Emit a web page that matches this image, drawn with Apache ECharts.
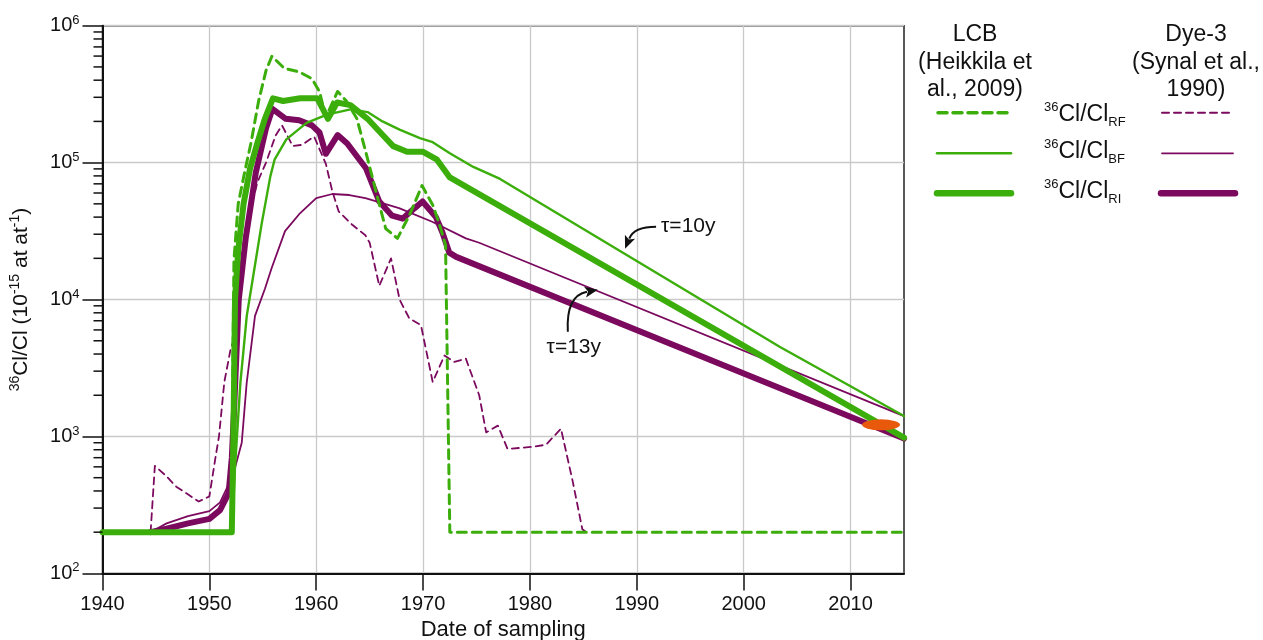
<!DOCTYPE html>
<html><head><meta charset="utf-8">
<script src="https://cdn.jsdelivr.net/npm/echarts@6/dist/echarts.min.js"></script>
<style>html,body{margin:0;padding:0;background:#fff}#c{width:1263px;height:640px}</style>
</head><body><div id="c"></div>
<script>
// ---------- data ----------
const xTicks = [1940, 1950, 1960, 1970, 1980, 1990, 2000, 2010];
const yTicks = [100, 1000, 10000, 100000, 1000000];
const yMinorTicks = [200,300,400,500,600,700,800,900,
  2000,3000,4000,5000,6000,7000,8000,9000,
  20000,30000,40000,50000,60000,70000,80000,90000,
  200000,300000,400000,500000,600000,700000,800000,900000];

// LCB (Heikkila et al., 2009)
const lcbRF = [[1940,200],[1952.05,200],[1952.3,19500],[1952.7,50000],[1953.3,85000],[1953.9,140000],[1954.6,280000],[1955.3,470000],[1955.85,598000],[1957.0,489000],[1958.4,460000],[1959.6,410000],[1960.3,331000],[1960.9,215000],[1962.0,331000],[1962.8,283000],[1963.8,210000],[1964.8,107000],[1965.7,57000],[1966.5,33000],[1967.6,28000],[1968.7,41000],[1969.9,68000],[1970.9,49000],[1971.5,36000],[1972.1,25000],[1972.5,200],[2015,200]];
const lcbBF = [[1940,200],[1952.1,200],[1952.4,600],[1952.9,2450],[1953.5,7600],[1954.1,14800],[1954.9,36000],[1955.7,79000],[1956.1,105000],[1957.2,148000],[1959.1,195000],[1961.0,224000],[1963.2,245000],[1964.8,234000],[1966.2,200000],[1967.8,174000],[1969.7,151000],[1970.9,141000],[1972.5,117000],[1974.7,93000],[1977.2,76000],[2003.4,4500],[2015,1410]];
const lcbRI = [[1940,200],[1952.1,200],[1952.25,1000],[1952.4,10000],[1952.7,23000],[1953.2,50000],[1953.8,90000],[1954.5,140000],[1955.2,210000],[1955.95,295000],[1956.9,282000],[1958.5,295000],[1960.1,295000],[1961.1,209000],[1961.95,275000],[1963.2,263000],[1964.8,209000],[1966.0,166000],[1967.2,132000],[1968.5,120000],[1970.0,120000],[1971.3,105000],[1972.5,78000],[2015,980]];

// Dye-3 (Synal et al., 1990)
const dyeRF = [[1944.5,200],[1944.9,610],[1945.9,520],[1946.9,430],[1949.0,335],[1950.0,365],[1950.6,725],[1950.9,1000],[1951.4,2500],[1952.0,4400],[1952.45,5500],[1952.85,11500],[1953.3,23000],[1953.9,47000],[1954.5,72000],[1955.3,100000],[1956.2,158000],[1956.8,187000],[1957.8,132000],[1958.7,135000],[1959.8,155000],[1960.9,98000],[1961.5,62000],[1962.1,44000],[1963.4,35000],[1964.6,29500],[1965.0,26000],[1965.9,12600],[1967.0,20000],[1967.8,10000],[1968.7,7300],[1969.8,6500],[1970.9,2500],[1972.0,3900],[1972.9,3500],[1974.0,3700],[1975.25,2000],[1975.9,1070],[1977.0,1200],[1977.9,810],[1980.2,840],[1981.5,870],[1982.9,1140],[1984.0,470],[1984.9,210],[1985.3,200]];
const dyeBF = [[1944.5,200],[1946,232],[1948,262],[1950,285],[1951.0,330],[1951.77,441],[1952.4,590],[1953.03,900],[1953.49,2450],[1954.27,7600],[1955.2,12000],[1955.83,17000],[1957.08,31600],[1958.4,42000],[1960.0,55000],[1961.5,59000],[1963.1,58000],[1964.6,55000],[1967.75,46500],[1970.85,37000],[1974.0,28000],[1975.25,26000],[2015,1410]];
const dyeRI = [[1944.5,200],[1946,212],[1948,232],[1950,250],[1951.0,290],[1951.8,385],[1952.1,700],[1952.3,1500],[1952.75,10000],[1953.4,28000],[1954.35,85000],[1955.3,178000],[1955.9,247000],[1957.15,209000],[1958.4,204000],[1959.6,187000],[1960.3,166000],[1960.9,116000],[1962.0,159000],[1962.9,138000],[1964.65,91000],[1965.9,52000],[1967.1,41000],[1968.1,39000],[1969.0,45000],[1969.95,52000],[1971.2,40000],[1971.8,31000],[1972.45,22000],[1973.1,20500],[2015,966]];

// present-day measurement (orange ellipse)
const measurement = [[2012.85, 1217]];

// annotation anchors (data space: arrow tips)
const tau10Tip = [1988.9, 23500];
const tau13Tip = [1986.35, 11800];

// ---------- chart ----------
const FONT = "'Liberation Sans', Arial, Helvetica, sans-serif";
const GREEN = '#3cae0c', PURPLE = '#7b0a5f', ORANGE = '#e8590c', INK = '#111';
const chart = echarts.init(document.getElementById('c'));

function line(name, data, color, width, dash, z) {
  return {
    name, type: 'line', data, showSymbol: false, symbol: 'none', z,
    smooth: false,
    lineStyle: { color, width, type: dash || 'solid', cap: 'round', join: 'round' },
    emphasis: { disabled: true }, silent: true
  };
}

const supRich = {
  b: { fontSize: 20, fontFamily: FONT, color: INK, lineHeight: 24 },
  s: { fontSize: 13, fontFamily: FONT, color: INK, lineHeight: 14, verticalAlign: 'top' }
};
const nameRich = {
  b: { fontSize: 21, fontFamily: FONT, color: INK, lineHeight: 26 },
  s: { fontSize: 14, fontFamily: FONT, color: INK, lineHeight: 15, verticalAlign: 'top' }
};

chart.setOption({
  animation: false,
  backgroundColor: '#fff',
  grid: { left: 102.5, right: 359, top: 25.7, bottom: 66.6, containLabel: false, outerBoundsMode: 'none',
          show: true, borderColor: '#222', borderWidth: 1.5 },
  xAxis: {
    type: 'value', min: 1940, max: 2015, interval: 10,
    axisLine: { onZero: false, lineStyle: { color: INK, width: 2 } },
    axisTick: { length: 17, customValues: xTicks, lineStyle: { color: INK, width: 1.5 } },
    axisLabel: { customValues: xTicks, margin: 21, fontSize: 20, color: INK, fontFamily: FONT, formatter: v => String(v) },
    splitLine: { show: true, lineStyle: { color: '#c9c9c9', width: 1.3 } },
    name: 'Date of sampling', nameLocation: 'middle', nameGap: 45,
    nameTextStyle: { fontSize: 22, color: INK, fontFamily: FONT }
  },
  yAxis: {
    type: 'log', logBase: 10, min: 100, max: 1000000,
    axisLine: { onZero: false, lineStyle: { color: INK, width: 2 } },
    axisTick: { length: 20, customValues: yTicks, lineStyle: { color: INK, width: 1.5 } },
    axisLabel: {
      customValues: yTicks, margin: 23, color: INK, fontFamily: FONT,
      formatter: v => '{b|10}{s|' + Math.round(Math.log10(v)) + '}', rich: supRich
    },
    splitLine: { show: true, lineStyle: { color: '#c9c9c9', width: 1.3 } },
    name: '{s|36}{b|Cl/Cl (10}{s|-15}{b| at at}{s|-1}{b|)}',
    nameLocation: 'middle', nameGap: 68,
    nameTextStyle: { rich: nameRich, fontFamily: FONT }
  },
  series: [
    {
      type: 'custom', coordinateSystem: 'cartesian2d', clip: false, silent: true, z: 20,
      data: yMinorTicks.map(v => [1940, v]), encode: { x: 0, y: 1 },
      renderItem: (params, api) => {
        const p = api.coord([api.value(0), api.value(1)]);
        return { type: 'line', shape: { x1: p[0] - 9, y1: p[1], x2: p[0], y2: p[1] },
                 style: { stroke: INK, lineWidth: 1.5 } };
      }
    },
    line('Dye-3 RI', dyeRI, PURPLE, 6, null, 3),
    line('Dye-3 BF', dyeBF, PURPLE, 1.8, null, 3),
    line('Dye-3 RF', dyeRF, PURPLE, 1.8, [7, 5], 3),
    line('LCB RI', lcbRI, GREEN, 6, null, 4),
    line('LCB BF', lcbBF, GREEN, 2.4, null, 4),
    line('LCB RF', lcbRF, GREEN, 3, [9, 6], 4),
    {
      type: 'scatter', data: measurement, symbol: 'circle', symbolSize: [38, 11], z: 6,
      itemStyle: { color: ORANGE, opacity: 1 }, silent: true
    }
  ]
});

// ---------- legend (graphic) ----------
const g = [];
const T = (text, x, y, align) => ({ type: 'text', silent: true, z: 50,
  style: { text, x, y, textAlign: align || 'center', textVerticalAlign: 'middle', fill: INK, font: '23px ' + FONT } });
g.push(T('LCB', 975, 35), T('(Heikkila et', 975, 63), T('al., 2009)', 975, 90));
g.push(T('Dye-3', 1196, 35), T('(Synal et al.,', 1196, 63), T('1990)', 1196, 90));
const legRich = {
  sp: { fontSize: 13, fontFamily: FONT, fill: INK, lineHeight: 14, verticalAlign: 'top' },
  b: { fontSize: 23, fontFamily: FONT, fill: INK, lineHeight: 28 },
  sb: { fontSize: 13, fontFamily: FONT, fill: INK, lineHeight: 14, verticalAlign: 'bottom' }
};
[['RF', 113], ['BF', 150], ['RI', 190]].forEach(([sub, y]) => {
  g.push({ type: 'text', silent: true, z: 50,
    style: { text: '{sp|36}{b|Cl/Cl}{sb|' + sub + '}', x: 1044, y: y + 2, textAlign: 'left', textVerticalAlign: 'middle', rich: legRich } });
});
const L = (x1, x2, y, color, width, dash) => ({ type: 'line', silent: true, z: 50,
  shape: { x1, y1: y, x2, y2: y },
  style: { stroke: color, lineWidth: width, lineDash: dash || null, lineCap: 'round' } });
g.push(L(938, 1007, 112.7, GREEN, 3.5, [9, 6]), L(937, 1011, 153.3, GREEN, 2.5), L(937, 1011, 193.3, GREEN, 6.5));
g.push(L(1162, 1230, 112.7, PURPLE, 2, [7, 5]), L(1162, 1233, 153.3, PURPLE, 1.8), L(1161, 1235, 193.3, PURPLE, 6.5));

// ---------- tau annotations ----------
function arrow(start, ctrl, tip) {
  const dx = tip[0] - ctrl[0], dy = tip[1] - ctrl[1], n = Math.hypot(dx, dy);
  const ux = dx / n, uy = dy / n, hl = 13, hw = 5.5;
  const bx = tip[0] - ux * hl, by = tip[1] - uy * hl;
  return [
    { type: 'bezierCurve', silent: true, z: 60,
      shape: { x1: start[0], y1: start[1], cpx1: ctrl[0], cpy1: ctrl[1], x2: bx + ux * 2, y2: by + uy * 2 },
      style: { stroke: INK, lineWidth: 2, fill: null } },
    { type: 'polygon', silent: true, z: 60,
      shape: { points: [tip, [bx - uy * hw, by + ux * hw], [bx + ux * 3, by + uy * 3], [bx + uy * hw, by - ux * hw]] },
      style: { fill: INK } }
  ];
}
const p10 = chart.convertToPixel({ gridIndex: 0 }, tau10Tip);
const p13 = chart.convertToPixel({ gridIndex: 0 }, tau13Tip);
g.push(...arrow([p10[0] + 31, p10[1] - 22], [p10[0] + 9, p10[1] - 22], p10));
g.push({ type: 'text', silent: true, z: 60,
  style: { text: 'τ=10y', x: p10[0] + 36, y: p10[1] - 23, textAlign: 'left', textVerticalAlign: 'middle', fill: INK, font: '21px ' + FONT } });
g.push(...arrow([p13[0] - 30, p13[1] + 42], [p13[0] - 32, p13[1] + 6], p13));
g.push({ type: 'text', silent: true, z: 60,
  style: { text: 'τ=13y', x: p13[0] - 24, y: p13[1] + 57, textAlign: 'center', textVerticalAlign: 'middle', fill: INK, font: '21px ' + FONT } });

chart.setOption({ graphic: g });
</script>
</body></html>
